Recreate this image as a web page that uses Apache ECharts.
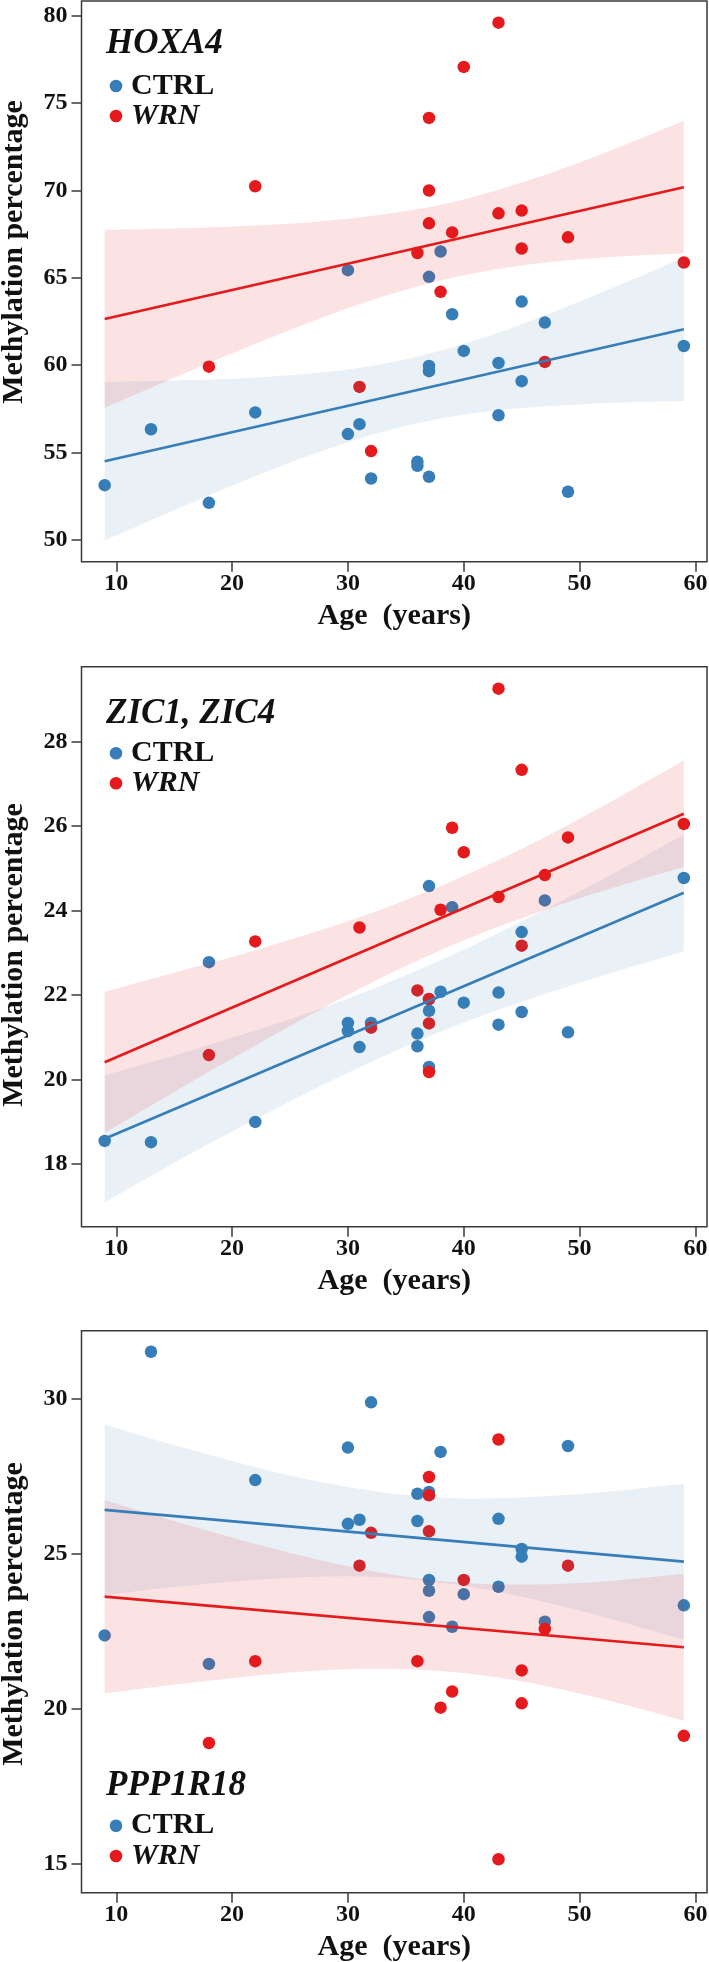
<!DOCTYPE html>
<html><head><meta charset="utf-8">
<script src="https://cdn.jsdelivr.net/npm/echarts@6/dist/echarts.min.js"></script>
<style>html,body{margin:0;padding:0;background:#fff}#c{width:709px;height:1962px}</style>
</head><body><div id="c"></div>
<script>
// ---------- DATA ----------
const xTicks = [10, 20, 30, 40, 50, 60];
const hoxa4Ticks = [50, 55, 60, 65, 70, 75, 80];
const zicTicks = [18, 20, 22, 24, 26, 28];
const pppTicks = [15, 20, 25, 30];

const geneNames = ['HOXA4', 'ZIC1, ZIC4', 'PPP1R18'];
const groupNames = ['CTRL', 'WRN'];
const xName = 'Age  (years)';
const yName = 'Methylation percentage';

// HOXA4
const hoxa4CtrlAge = [9, 13, 18, 22, 30, 30, 31, 32, 36, 36, 37, 37, 37, 37, 38, 39, 40, 43, 43, 45, 45, 47, 49, 59];
const hoxa4CtrlVal = [53.14, 56.34, 52.13, 57.3, 65.44, 56.06, 56.63, 53.52, 54.48, 54.25, 65.06, 59.96, 59.66, 53.62, 66.51, 62.92, 60.82, 60.13, 57.14, 63.64, 59.09, 62.44, 52.76, 61.1];
const hoxa4WrnAge = [18, 22, 31, 32, 36, 37, 37, 37, 38, 39, 40, 43, 43, 45, 45, 47, 49, 59];
const hoxa4WrnVal = [59.92, 70.24, 58.76, 55.09, 66.42, 74.15, 70.0, 68.12, 64.2, 67.6, 77.07, 79.6, 68.69, 68.85, 66.68, 60.19, 67.32, 65.88];

// ZIC1, ZIC4
const zicCtrlAge = [9, 13, 18, 22, 30, 30, 31, 32, 36, 36, 37, 37, 37, 37, 38, 39, 40, 43, 43, 45, 45, 47, 49, 59];
const zicCtrlVal = [18.55, 18.52, 22.78, 19.0, 21.34, 21.15, 20.77, 21.34, 21.09, 20.79, 24.58, 21.63, 20.3, 21.9, 22.08, 24.08, 21.82, 22.06, 21.3, 23.49, 21.6, 24.24, 21.12, 24.77];
const zicWrnAge = [18, 22, 31, 32, 36, 37, 37, 37, 38, 39, 40, 43, 43, 45, 45, 47, 49, 59];
const zicWrnVal = [20.58, 23.27, 23.6, 21.23, 22.11, 21.91, 21.33, 20.18, 24.02, 25.96, 25.38, 29.25, 24.32, 27.33, 23.17, 24.84, 25.73, 26.05];

// PPP1R18
const pppCtrlAge = [9, 13, 18, 22, 30, 30, 31, 32, 36, 36, 37, 37, 37, 37, 38, 39, 40, 43, 43, 45, 45, 47, 49, 59];
const pppCtrlVal = [22.37, 31.52, 21.45, 27.38, 28.43, 25.97, 26.1, 29.89, 26.94, 26.06, 27.0, 24.16, 23.81, 22.96, 28.29, 22.65, 23.7, 26.13, 23.94, 25.16, 24.91, 22.81, 28.48, 23.34];
const pppWrnAge = [18, 22, 31, 32, 36, 37, 37, 37, 38, 39, 40, 43, 43, 45, 45, 47, 49, 59];
const pppWrnVal = [18.9, 21.54, 24.62, 25.68, 21.54, 27.48, 26.89, 25.73, 20.04, 20.56, 24.16, 28.69, 15.15, 21.24, 20.18, 22.58, 24.62, 19.13];

// fitted lines (read at ages 9 and 59)
const fitAges = [9, 59];
const hoxa4CtrlFit = [54.51, 62.06];
const hoxa4WrnFit = [62.65, 70.19];
const zicCtrlFit = [18.6, 24.42];
const zicWrnFit = [20.41, 26.29];
const pppCtrlFit = [26.42, 24.75];
const pppWrnFit = [23.62, 21.99];

// confidence bands (read at these ages)
const bandAges = [9, 15, 20, 25, 30, 35, 40, 45, 50, 55, 59];
const hoxa4CtrlUpper = [59.04, 59.13, 59.23, 59.43, 59.76, 60.34, 61.21, 62.35, 63.64, 65.03, 66.17];
const hoxa4CtrlLower = [49.98, 51.71, 53.11, 54.43, 55.60, 56.54, 57.17, 57.55, 57.76, 57.89, 57.95];
const hoxa4WrnUpper = [67.74, 67.82, 67.94, 68.10, 68.38, 68.82, 69.49, 70.45, 71.60, 72.90, 73.99];
const hoxa4WrnLower = [57.56, 59.28, 60.68, 62.02, 63.26, 64.32, 65.15, 65.71, 66.06, 66.28, 66.39];
const zicCtrlUpper = [20.10, 20.57, 20.99, 21.43, 21.92, 22.47, 23.07, 23.74, 24.45, 25.19, 25.80];
const zicCtrlLower = [17.10, 18.03, 18.77, 19.49, 20.16, 20.79, 21.35, 21.84, 22.29, 22.71, 23.04];
const zicWrnUpper = [22.08, 22.53, 22.90, 23.31, 23.75, 24.25, 24.82, 25.46, 26.17, 26.93, 27.55];
const zicWrnLower = [18.74, 19.71, 20.50, 21.27, 22.01, 22.69, 23.30, 23.82, 24.29, 24.71, 25.03];
const pppCtrlUpper = [29.17, 28.51, 28.00, 27.53, 27.16, 26.90, 26.79, 26.82, 26.93, 27.10, 27.27];
const pppCtrlLower = [23.67, 23.93, 24.10, 24.23, 24.28, 24.20, 23.97, 23.62, 23.17, 22.66, 22.23];
const pppWrnUpper = [26.74, 26.06, 25.53, 25.03, 24.60, 24.26, 24.06, 24.01, 24.06, 24.21, 24.36];
const pppWrnLower = [20.50, 20.78, 20.99, 21.17, 21.28, 21.28, 21.16, 20.89, 20.50, 20.03, 19.62];

// ---------- LAYOUT / STYLE ----------
const BLUE = '#377eb8', RED = '#e41a1c';
const BLUE_BAND = 'rgba(55,126,184,0.11)', RED_BAND = 'rgba(228,26,28,0.12)';
const FRAME = '#3a3a3a';
const FONT = '"Liberation Serif", "Times New Roman", serif';

const panels = [
  { top: 1, height: 560.7, ymin: 48.76, ymax: 80.84, ticks: hoxa4Ticks,
    ctrl: [hoxa4CtrlAge, hoxa4CtrlVal], wrn: [hoxa4WrnAge, hoxa4WrnVal],
    fit: [hoxa4CtrlFit, hoxa4WrnFit], band: [[hoxa4CtrlUpper, hoxa4CtrlLower], [hoxa4WrnUpper, hoxa4WrnLower]],
    titleY: 43.8, dotY: [86, 116], yNameY: 252 },
  { top: 666.7, height: 560, ymin: 16.52, ymax: 29.77, ticks: zicTicks,
    ctrl: [zicCtrlAge, zicCtrlVal], wrn: [zicWrnAge, zicWrnVal],
    fit: [zicCtrlFit, zicWrnFit], band: [[zicCtrlUpper, zicCtrlLower], [zicWrnUpper, zicWrnLower]],
    titleY: 713.8, dotY: [753.3, 783.3], yNameY: 955 },
  { top: 1330.7, height: 562, ymin: 14.07, ymax: 32.2, ticks: pppTicks,
    ctrl: [pppCtrlAge, pppCtrlVal], wrn: [pppWrnAge, pppWrnVal],
    fit: [pppCtrlFit, pppWrnFit], band: [[pppCtrlUpper, pppCtrlLower], [pppWrnUpper, pppWrnLower]],
    titleY: 1785.5, dotY: [1825.7, 1856], yNameY: 1614 }
];

const zip = (a, b) => a.map((v, i) => [v, b[i]]);

// smooth path (Catmull-Rom -> cubic bezier) through pixel points
function curveSegs(pts) {
  let d = '';
  for (let k = 0; k < pts.length - 1; k++) {
    const p0 = pts[Math.max(k - 1, 0)], p1 = pts[k], p2 = pts[k + 1], p3 = pts[Math.min(k + 2, pts.length - 1)];
    const c1 = [p1[0] + (p2[0] - p0[0]) / 6, p1[1] + (p2[1] - p0[1]) / 6];
    const c2 = [p2[0] - (p3[0] - p1[0]) / 6, p2[1] - (p3[1] - p1[1]) / 6];
    d += ' C' + c1[0] + ',' + c1[1] + ' ' + c2[0] + ',' + c2[1] + ' ' + p2[0] + ',' + p2[1];
  }
  return d;
}

const grid = [], xAxis = [], yAxis = [], series = [], graphic = [];
const labelStyle = { fontFamily: FONT, fontWeight: 'bold', fontSize: 24, color: '#111' };
const nameStyle = { fontFamily: FONT, fontWeight: 'bold', fontSize: 30, color: '#111' };

panels.forEach((p, i) => {
  grid.push({ left: 81.5, right: 2, top: p.top, height: p.height, show: true,
    containLabel: false, outerBoundsMode: 'none',
    borderColor: FRAME, borderWidth: 1.5, backgroundColor: 'transparent' });
  xAxis.push({ gridIndex: i, type: 'value', min: 7, max: 61,
    axisLine: { show: false }, splitLine: { show: false },
    axisTick: { show: true, length: 10, customValues: xTicks, lineStyle: { color: FRAME, width: 1.5 } },
    axisLabel: Object.assign({ customValues: xTicks, margin: 10 }, labelStyle),
    name: xName, nameLocation: 'middle', nameGap: 40, nameTextStyle: nameStyle });
  yAxis.push({ gridIndex: i, type: 'value', min: p.ymin, max: p.ymax,
    axisLine: { show: false }, splitLine: { show: false },
    axisTick: { show: true, length: 10, customValues: p.ticks, lineStyle: { color: FRAME, width: 1.5 } },
    axisLabel: Object.assign({ customValues: p.ticks, margin: 14 }, labelStyle) });

  const groups = [[p.ctrl, BLUE, BLUE_BAND], [p.wrn, RED, RED_BAND]];
  groups.forEach(([d, col], g) => {
    series.push({ type: 'scatter', name: groupNames[g], xAxisIndex: i, yAxisIndex: i,
      data: zip(d[0], d[1]), symbolSize: 12.5, itemStyle: { color: col, opacity: 1 }, z: 2 + g * 0.01 });
  });
  groups.forEach(([d, col, bandCol], g) => {
    const [up, lo] = p.band[g];
    series.push({ type: 'custom', xAxisIndex: i, yAxisIndex: i, silent: true, z: 3, clip: true,
      data: zip(bandAges, up),
      renderItem: (params, api) => {
        if (params.dataIndex !== 0) return null;
        const U = bandAges.map((a, k) => api.coord([a, up[k]]));
        const L = bandAges.map((a, k) => api.coord([a, lo[k]])).reverse();
        const pathData = 'M' + U[0][0] + ',' + U[0][1] + curveSegs(U) +
          ' L' + L[0][0] + ',' + L[0][1] + curveSegs(L) + ' Z';
        return { type: 'path', shape: { pathData }, style: { fill: bandCol, stroke: null } };
      } });
  });
  groups.forEach(([d, col], g) => {
    series.push({ type: 'line', xAxisIndex: i, yAxisIndex: i, symbol: 'none', silent: true,
      data: zip(fitAges, p.fit[g]), lineStyle: { color: col, width: 2.6 }, z: 4 });
  });

  // y-axis title
  graphic.push({ type: 'text', x: 14, y: p.yNameY, rotation: Math.PI / 2, z: 10,
    style: { text: yName, font: 'bold 30px ' + FONT, fill: '#111', align: 'center', verticalAlign: 'middle' } });
  // gene title + legend
  graphic.push({ type: 'text', x: 106, y: p.titleY, z: 10,
    style: { text: geneNames[i], font: 'italic bold 35px ' + FONT, fill: '#111', verticalAlign: 'middle', align: 'left' } });
  [BLUE, RED].forEach((col, g) => {
    graphic.push({ type: 'circle', shape: { cx: 116, cy: p.dotY[g], r: 6.3 }, style: { fill: col }, z: 10 });
    graphic.push({ type: 'text', x: 131, y: p.dotY[g], z: 10,
      style: { text: groupNames[g], font: (g === 1 ? 'italic ' : '') + 'bold 30px ' + FONT,
        fill: '#111', verticalAlign: 'middle', align: 'left' } });
  });
});

const chart = echarts.init(document.getElementById('c'));
chart.setOption({ backgroundColor: '#fff', animation: false, grid, xAxis, yAxis, series, graphic });
</script>
</body></html>
